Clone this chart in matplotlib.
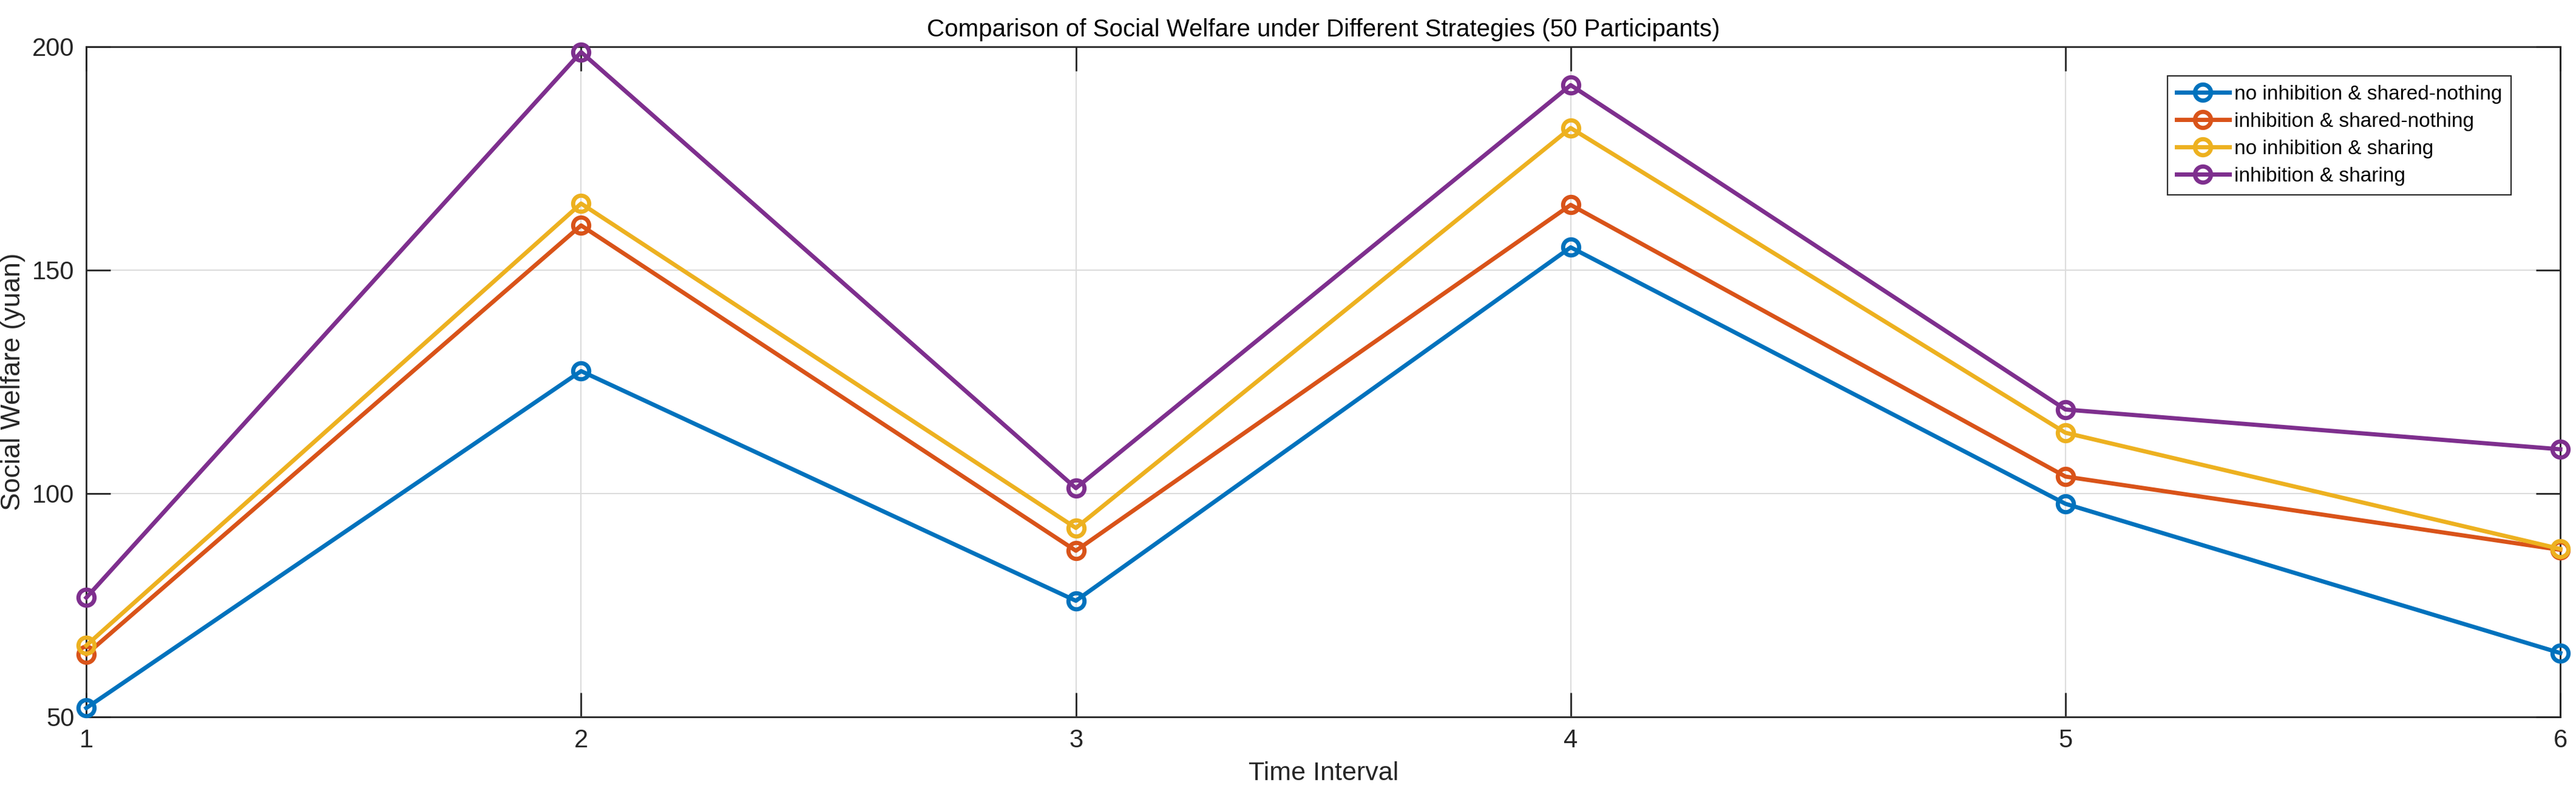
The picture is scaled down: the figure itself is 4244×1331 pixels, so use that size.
import matplotlib
matplotlib.use('Agg')
import matplotlib.pyplot as plt
from matplotlib import font_manager

# fonts: narrow Helvetica-like look of the MATLAB export
names = {f.name for f in font_manager.fontManager.ttflist}
fam = ['Liberation Sans Narrow', 'Liberation Sans', 'DejaVu Sans']
fam = [f for f in fam if f in names] + ['DejaVu Sans']
plt.rcParams['font.family'] = fam

# data
t = [1, 2, 3, 4, 5, 6]
no_inh_nothing = [52.0, 127.4, 76.0, 155.1, 97.7, 64.3]
inh_nothing = [64.0, 160.0, 87.2, 164.6, 103.8, 87.4]
no_inh_sharing = [66.0, 164.9, 92.3, 181.8, 113.6, 87.6]
inh_sharing = [76.7, 198.8, 101.2, 191.4, 118.8, 109.9]

labels = ['no inhibition & shared-nothing', 'inhibition & shared-nothing',
          'no inhibition & sharing', 'inhibition & sharing']
colors = ['#0072BD', '#D95319', '#EDB120', '#7E2F8E']
series = [no_inh_nothing, inh_nothing, no_inh_sharing, inh_sharing]

fig = plt.figure(figsize=(42.44, 13.31), dpi=100)
ax = fig.add_axes([0.0335, 0.1127, 0.9604, 0.8295])

for y, c, lab in zip(series, colors, labels):
    ax.plot(t, y, '-o', color=c, lw=5, ms=19, mew=5,
            mfc='none', label=lab, clip_on=False, zorder=3)

ax.set_xlim(1, 6)
ax.set_ylim(50, 200)
ax.set_xticks(t)
ax.set_yticks([50, 100, 150, 200])
ax.grid(True, color='#dcdcdc', lw=1.5)
ax.set_axisbelow(True)
for s in ax.spines.values():
    s.set_color('#262626')
    s.set_linewidth(2)
ax.tick_params(direction='in', length=29, width=2, color='#262626',
               labelsize=30, labelcolor='#262626', top=True, right=True, pad=14)

ax.set_title('Comparison of Social Welfare under Different Strategies (50 Participants)',
             fontsize=29, pad=12)
ax.set_xlabel('Time Interval', fontsize=31, color='#262626', labelpad=10)
ax.set_ylabel('Social Welfare (yuan)', fontsize=32, color='#262626', labelpad=8)

leg = ax.legend(loc='upper right', bbox_to_anchor=(0.9843, 0.972), fontsize=24,
                fancybox=False, framealpha=1, edgecolor='#262626',
                handlelength=2.6, borderpad=0.45, labelspacing=0.42, handletextpad=0.25)
leg.get_frame().set_linewidth(1.5)

fig.savefig('out.png', dpi=100)
